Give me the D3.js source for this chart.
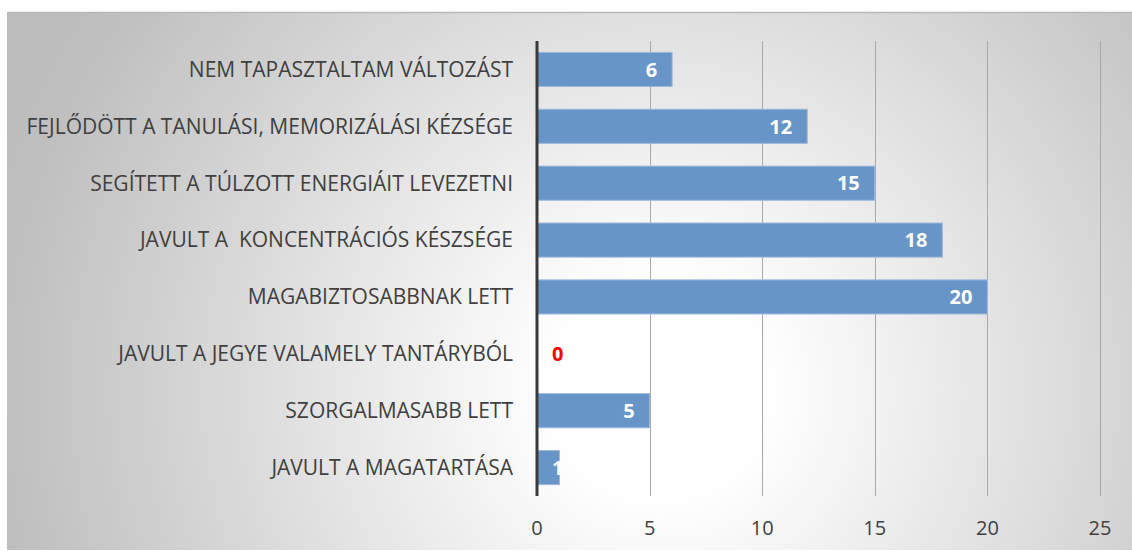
<!DOCTYPE html>
<html>
<head>
<meta charset="utf-8">
<script src="https://cdn.jsdelivr.net/npm/d3@7"></script>
<style>
  html, body { margin: 0; padding: 0; background: #fff; }
  svg text { font-family: "Open Sans", "Liberation Sans", sans-serif; white-space: pre; }
</style>
</head>
<body>
<svg id="chart" width="1132" height="551"></svg>
<script>
// kategóriák felülről lefelé
const categories = [
    "NEM TAPASZTALTAM VÁLTOZÁST",
    "FEJLŐDÖTT A TANULÁSI, MEMORIZÁLÁSI KÉZSÉGE",
    "SEGÍTETT A TÚLZOTT ENERGIÁIT LEVEZETNI",
    "JAVULT A  KONCENTRÁCIÓS KÉSZSÉGE",
    "MAGABIZTOSABBNAK LETT",
    "JAVULT A JEGYE VALAMELY TANTÁRYBÓL",
    "SZORGALMASABB LETT",
    "JAVULT A MAGATARTÁSA"
];
const values = [6, 12, 15, 18, 20, 0, 5, 1];
const xTicks = [0, 5, 10, 15, 20, 25];

const svg = d3.select("#chart");
const W = 1132, H = 551;
const margin = {left: 537, right: 32, top: 41, bottom: 55};

// háttér - radiális szürke átmenet
const defs = svg.append("defs");
const grad = defs.append("radialGradient")
    .attr("id", "bg")
    .attr("gradientUnits", "userSpaceOnUse")
    .attr("cx", 660).attr("cy", 390).attr("r", 700);
grad.append("stop").attr("offset", 0).attr("stop-color", "#ffffff");
grad.append("stop").attr("offset", 0.15).attr("stop-color", "#ffffff");
grad.append("stop").attr("offset", 0.9).attr("stop-color", "#c2c2c2");
grad.append("stop").attr("offset", 1).attr("stop-color", "#bcbcbc");

svg.append("rect")
    .attr("x", 7).attr("y", 12)
    .attr("width", W - 7).attr("height", H - 13)
    .attr("fill", "url(#bg)");
svg.append("line")
    .attr("x1", 7).attr("x2", W).attr("y1", 12.5).attr("y2", 12.5)
    .attr("stroke", "#b8b8b8").attr("stroke-width", 1.5);

const x = d3.scaleLinear().domain([0, 25]).range([margin.left, 1100]);
const y = d3.scaleBand().domain(categories)
    .range([margin.top, H - margin.bottom])
    .paddingInner(0.4).paddingOuter(0.2);

// rácsvonalak
svg.append("g").selectAll("line")
    .data(xTicks.filter(d => d > 0))
    .enter().append("line")
    .attr("x1", d => Math.round(x(d)) + 0.5)
    .attr("x2", d => Math.round(x(d)) + 0.5)
    .attr("y1", margin.top)
    .attr("y2", H - margin.bottom)
    .attr("stroke", "#a8a8a8")
    .attr("stroke-width", 1);

// tengely feliratok
svg.append("g").selectAll("text")
    .data(xTicks)
    .enter().append("text")
    .attr("x", d => x(d))
    .attr("y", 535)
    .attr("text-anchor", "middle")
    .attr("fill", "#404040")
    .attr("font-size", "20px")
    .text(d => d);

// oszlopok
svg.append("g").selectAll("rect")
    .data(values)
    .enter().append("rect")
    .attr("x", x(0))
    .attr("y", (d, i) => y(categories[i]))
    .attr("width", d => x(d) - x(0))
    .attr("height", y.bandwidth())
    .attr("fill", "#6895c7")
    .attr("stroke", "#9db9dc")
    .attr("stroke-width", 1)
    .attr("display", d => d > 0 ? null : "none");

// kategória feliratok
svg.append("g").selectAll("text")
    .data(categories)
    .enter().append("text")
    .attr("x", 513)
    .attr("y", d => y(d) + y.bandwidth() / 2)
    .attr("dy", "0.35em")
    .attr("text-anchor", "end")
    .attr("fill", "#404040")
    .attr("font-size", "21px")
    .text(d => d);

// értékfeliratok (rövid oszlopnál a tengely mellé kerül)
const fitsInside = d => x(d) - x(0) > 40;
svg.append("g").selectAll("text")
    .data(values)
    .enter().append("text")
    .attr("x", d => fitsInside(d) ? x(d) - 15 : x(0) + 15)
    .attr("y", (d, i) => y(categories[i]) + y.bandwidth() / 2)
    .attr("dy", "0.36em")
    .attr("text-anchor", d => fitsInside(d) ? "end" : "start")
    .attr("fill", d => d > 0 ? "#ffffff" : "#ff0000")
    .attr("font-size", "20px")
    .attr("font-weight", "bold")
    .text(d => d);

// függőleges tengelyvonal
svg.append("line")
    .attr("x1", x(0)).attr("x2", x(0))
    .attr("y1", margin.top).attr("y2", H - margin.bottom)
    .attr("stroke", "#3a3a3a")
    .attr("stroke-width", 3);
</script>
</body>
</html>
